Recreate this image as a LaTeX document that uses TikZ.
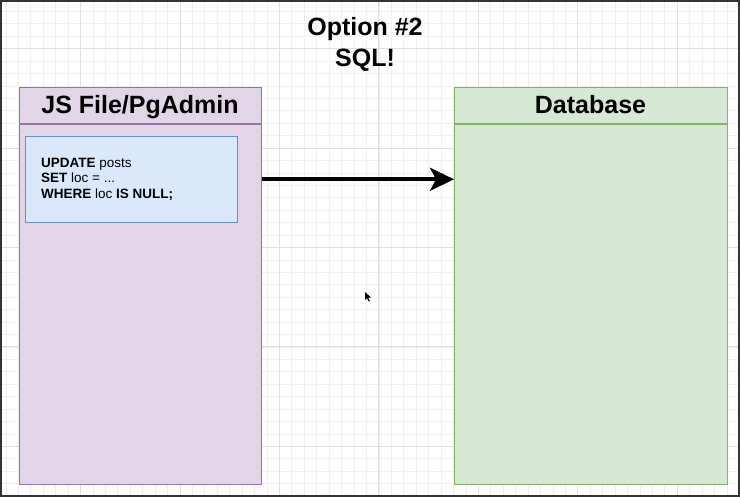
\documentclass[tikz,border=0pt]{standalone}
\usepackage{fontspec}
\setmainfont{Liberation Sans}
\usetikzlibrary{arrows.meta}
\definecolor{purfill}{HTML}{E1D5E7}
\definecolor{purdraw}{HTML}{9673A6}
\definecolor{bluefill}{HTML}{DAE8FC}
\definecolor{bluedraw}{HTML}{6C8EBF}
\definecolor{grnfill}{HTML}{D5E8D4}
\definecolor{grndraw}{HTML}{82B366}
\definecolor{gridminor}{HTML}{F0F0F0}
\definecolor{gridmajor}{HTML}{E0E0E0}
\definecolor{frame}{HTML}{333333}
\tikzset{
  lane/.style={rectangle, line width=1.4pt, inner sep=0pt, anchor=north west},
  bigtext/.style={font=\fontsize{25}{30}\selectfont\bfseries, inner sep=0pt, anchor=base},
  sqltext/.style={font=\fontsize{13.5}{16}\selectfont, inner sep=0pt, anchor=base west},
  flow/.style={line width=4pt, -{Stealth[length=24pt,width=23pt,inset=6pt]}},
}
\begin{document}
\begin{tikzpicture}[x=1pt,y=-1pt]
\useasboundingbox (0,0) rectangle (740,497);
\fill[white] (0,0) rectangle (740,497);
% grid
\foreach \i in {0,...,59} {
  \draw[gridminor, line width=0.8pt] ({6.0+12.43*\i},0) -- ({6.0+12.43*\i},497);
}
\foreach \i in {0,...,39} {
  \draw[gridminor, line width=0.8pt] (0,{-1.1+12.43*\i}) -- (740,{-1.1+12.43*\i});
}
\foreach \i in {0,...,7} {
  \draw[gridmajor, line width=1pt] ({80.6+99.43*\i},0) -- ({80.6+99.43*\i},497);
}
\foreach \i in {0,...,4} {
  \draw[gridmajor, line width=1pt] (0,{48.6+99.43*\i}) -- (740,{48.6+99.43*\i});
}
% title
\node[bigtext] (title1) at (365,36) {Option \#2};
\node[bigtext] (title2) at (365,66.5) {SQL!};
% left lane
\node[lane, fill=purfill, draw=purdraw, minimum width=242pt, minimum height=397pt] (jsfile) at (19,87) {};
\draw[purdraw, line width=1.4pt] ([yshift=-37pt]jsfile.north west) -- ([yshift=-37pt]jsfile.north east);
\node[bigtext] (jshead) at (140,113.3) {JS File/PgAdmin};
\node[lane, fill=bluefill, draw=bluedraw, line width=1pt, minimum width=212pt, minimum height=86.5pt] (sqlbox) at (25,136) {};
\node[sqltext] (sql1) at (41,167.5) {\textbf{UPDATE} posts};
\node[sqltext] (sql2) at (41,183) {\textbf{SET} loc = ...};
\node[sqltext] (sql3) at (41,198.5) {\textbf{WHERE} loc \textbf{IS NULL;}};
% right lane
\node[lane, fill=grnfill, draw=grndraw, minimum width=273pt, minimum height=397pt] (db) at (454,87) {};
\draw[grndraw, line width=1.4pt] ([yshift=-37pt]db.north west) -- ([yshift=-37pt]db.north east);
\node[bigtext] (dbhead) at (590.5,113.3) {Database};
% arrow
\draw[flow] ([yshift=-92.3pt]jsfile.north east) -- ([yshift=-92.3pt]db.north west);
% mouse pointer
\fill[black] (365,292) -- (365,300) -- (367,298.2) -- (368.6,301.5) -- (369.8,301) -- (368.3,297.7) -- (371,297.5) -- cycle;
% frame
\draw[frame, line width=2pt] (1,1) rectangle (739,496);
\end{tikzpicture}
\end{document}
